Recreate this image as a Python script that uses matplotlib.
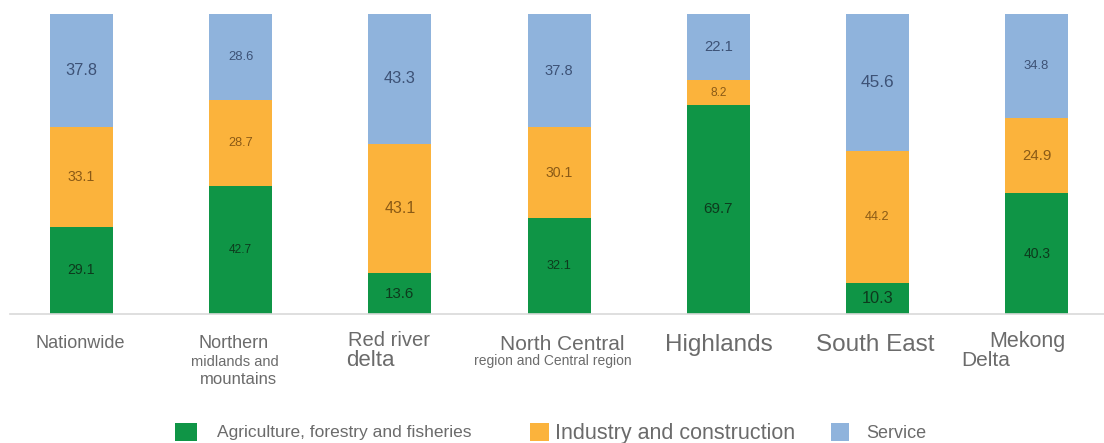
import numpy as np
import matplotlib
matplotlib.use("Agg")
import matplotlib.pyplot as plt
from matplotlib.patches import Rectangle

plt.rcParams["font.family"] = ["Liberation Sans", "DejaVu Sans"]

regions = ["Nationwide", "Northern\nmidlands and\nmountains", "Red river\ndelta",
           "North Central\nregion and Central region", "Highlands", "South East",
           "Mekong\nDelta"]
sectors = ["Agriculture, forestry and fisheries", "Industry and construction", "Service"]

agriculture = [29.1, 42.7, 13.6, 32.1, 69.7, 10.3, 40.3]
industry = [33.1, 28.7, 43.1, 30.1, 8.2, 44.2, 24.9]
service = [37.8, 28.6, 43.3, 37.8, 22.1, 45.6, 34.8]

colors = ["#0f9546", "#fbb33c", "#8fb3dc"]
text_colors = ["#0d3a1d", "#8a5a16", "#3d5276"]

# font size of each value label, per sector then per region
label_sizes = [
    [10.2, 8.6, 10.9, 9.2, 11.0, 11.8, 10.0],
    [10.2, 9.2, 11.5, 10.2, 8.6, 9.2, 10.8],
    [11.8, 9.4, 11.8, 10.6, 10.6, 12.4, 9.4],
]

# per region, per line: (x offset px, y offset px below axis, font size, ha)
line_styles = [
    [(-1.5, 29, 13, "center")],
    [(-7, 29, 13, "center"), (-6, 48, 10.5, "center"), (-2, 65, 12, "center")],
    [(-11, 27, 14.5, "center"), (-54, 46, 16, "left")],
    [(3, 30, 15, "center"), (-6, 47, 10, "center")],
    [(0.5, 31, 17.5, "center")],
    [(-2.5, 31, 17.5, "center")],
    [(-9.5, 28, 15.5, "center"), (-50.5, 46, 15, "center")],
]

W, H = 1104, 443
fig = plt.figure(figsize=(W / 100, H / 100), dpi=100)
ax = fig.add_axes([10 / W, 129 / H, 1094 / W, 300 / H])

x = np.arange(len(regions))
series = [agriculture, industry, service]
bottom = np.zeros(len(regions))
for k, vals in enumerate(series):
    vals = np.array(vals)
    ax.bar(x, vals, width=0.396, bottom=bottom, color=colors[k], linewidth=0)
    for i, v in enumerate(vals):
        ax.text(i, bottom[i] + v / 2, f"{v:.1f}", ha="center", va="center",
                fontsize=label_sizes[k][i], color=text_colors[k])
    bottom += vals

ax.set_xlim(-0.449, 6.423)
ax.set_ylim(0, 100)
for s in ["top", "right", "left"]:
    ax.spines[s].set_visible(False)
ax.spines["bottom"].set_color("#d9d9d9")
ax.spines["bottom"].set_linewidth(1.2)
ax.set_xticks([])
ax.set_yticks([])

# region names under the bars, each line styled on its own
for i, name in enumerate(regions):
    for line, (dx, dy, fs, ha) in zip(name.split("\n"), line_styles[i]):
        ax.annotate(line, xy=(i, 0), xycoords=ax.get_xaxis_transform(),
                    xytext=(dx, -dy), textcoords="offset pixels",
                    ha=ha, va="center", fontsize=fs, color="#6b6b6b")

# legend row
legend_boxes = [(175, 22), (530, 19), (831, 18)]
legend_text = [(217, 12.5), (555, 15.5), (866, 13)]
for k in range(3):
    bx, bw = legend_boxes[k]
    fig.add_artist(Rectangle((bx / W, (H - 441) / H), bw / W, 18 / H,
                             transform=fig.transFigure, color=colors[k], lw=0))
    tx, fs = legend_text[k]
    fig.text(tx / W, (H - 433) / H, sectors[k], ha="left", va="center",
             fontsize=fs, color="#6b6b6b")

fig.savefig("out.png", dpi=100)
